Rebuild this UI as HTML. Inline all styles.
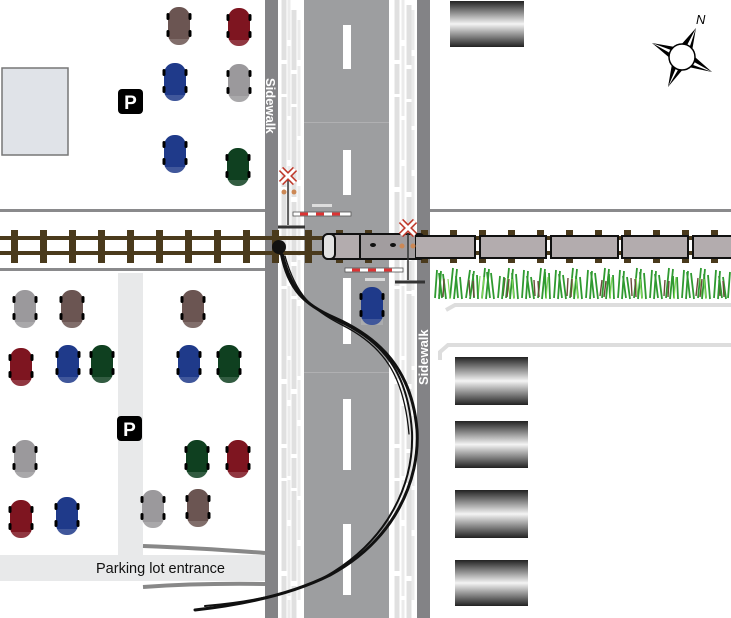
<!DOCTYPE html>
<html><head><meta charset="utf-8"><style>
html,body{margin:0;padding:0;background:#fff}
svg{display:block}
text{font-family:"Liberation Sans",sans-serif}
</style></head><body>
<svg width="731" height="618" viewBox="0 0 731 618" xmlns="http://www.w3.org/2000/svg">
<defs>
<linearGradient id="bg" x1="0" y1="0" x2="0" y2="1">
<stop offset="0" stop-color="#222"/><stop offset="0.5" stop-color="#f4f4f4"/><stop offset="1" stop-color="#222"/>
</linearGradient>
<g id="car"><rect x="-11" y="0" width="22" height="38" rx="10" ry="11"/>
<rect x="-12.5" y="6" width="3" height="7" rx="1.5" fill="#000"/><rect x="9.5" y="6" width="3" height="7" rx="1.5" fill="#000"/>
<rect x="-12.5" y="23" width="3" height="7" rx="1.5" fill="#000"/><rect x="9.5" y="23" width="3" height="7" rx="1.5" fill="#000"/>
<rect x="-11" y="32" width="22" height="6" fill="#fff" opacity="0.15"/></g>
<g id="xs"><path d="M-7,-7 L7,7 M7,-7 L-7,7" stroke="#c0392b" stroke-width="6"/><path d="M-7,-7 L7,7 M7,-7 L-7,7" stroke="#fff" stroke-width="3"/></g>
<g id="grass">
<g stroke="#2f9a30" stroke-width="1.8">
<path d="M435,298 l2,-28 M442,298 l-3,-25 M450,298 l3,-30 M458,298 l-2,-22 M466,298 l4,-28 M474,298 l-1,-24 M482,298 l3,-30 M490,298 l-3,-26 M498,298 l2,-22 M506,298 l3,-30 M514,298 l-2,-25 M522,298 l2,-28 M530,298 l-3,-22 M538,298 l3,-30 M546,298 l-1,-26 M554,298 l2,-28 M562,298 l-3,-24 M570,298 l3,-30 M578,298 l-2,-22 M586,298 l2,-28 M594,298 l-3,-26 M602,298 l3,-30 M610,298 l-1,-24 M618,298 l2,-28 M626,298 l-3,-22 M634,298 l3,-30 M642,298 l-2,-26 M650,298 l2,-28 M658,298 l-3,-24 M666,298 l3,-30 M674,298 l-1,-22 M682,298 l2,-28 M690,298 l-3,-26 M698,298 l3,-30 M706,298 l-2,-24 M714,298 l2,-28 M722,298 l-3,-22 M728,298 l2,-26"/>
</g>
<g stroke="#6b4a3a" stroke-width="1.4"><path d="M439,296 l1,-18 M470,296 l-1,-16 M503,296 l2,-18 M535,296 l-1,-16 M567,296 l1,-18 M600,296 l2,-16 M632,296 l-1,-18 M664,296 l1,-16 M696,296 l2,-18 M720,296 l-1,-16"/></g>
<g stroke="#7ed957" stroke-width="1.2"><path d="M446,298 l-2,-20 M478,298 l2,-22 M510,298 l-2,-20 M542,298 l2,-22 M574,298 l-2,-20 M606,298 l2,-22 M638,298 l-2,-20 M670,298 l2,-22 M702,298 l-2,-20"/></g>
</g>
</defs>
<!-- parking aisles -->
<rect x="118" y="273" width="25" height="285" fill="#e8e9ea"/>
<rect x="0" y="555" width="265" height="26" fill="#e8e9ea"/>
<path d="M143,546 Q200,548 265,553" stroke="#888" stroke-width="4" fill="none"/>
<path d="M143,587 Q200,583 265,584" stroke="#888" stroke-width="4" fill="none"/>
<!-- horizontal lines -->
<rect x="0" y="209" width="265" height="3" fill="#8a8a8c"/>
<rect x="430" y="209" width="301" height="3" fill="#8a8a8c"/>
<rect x="0" y="268" width="265" height="3" fill="#8a8a8c"/>
<path d="M446,310 L455,305 L731,305" stroke="#ddd" stroke-width="4" fill="none"/>
<path d="M440,360 L440,352 L448,345 L731,345" stroke="#ddd" stroke-width="4" fill="none"/>
<!-- road -->
<rect x="265" y="0" width="13" height="618" fill="#838386"/>
<rect x="417" y="0" width="13" height="618" fill="#838386"/>
<rect x="304" y="0" width="85" height="618" fill="#9d9ea0"/>
<rect x="304" y="122" width="85" height="1" fill="#b0b0b2"/>
<rect x="304" y="372" width="85" height="1" fill="#b0b0b2"/>
<g fill="#fff"><rect x="343" y="25" width="8" height="44"/><rect x="343" y="150" width="8" height="45"/><rect x="343" y="278" width="8" height="66"/><rect x="343" y="399" width="8" height="71"/><rect x="343" y="524" width="8" height="71"/></g>
<g stroke="#e0e0e0" stroke-width="5" stroke-dasharray="60 4 30 3 90 5">
<path d="M284,0 V618 M294,10 V618 M397,0 V618 M409,5 V618"/></g>
<g stroke="#ebebeb" stroke-width="3" stroke-dasharray="40 6 70 4">
<path d="M289,0 V618 M299,20 V600 M403,0 V618 M413,10 V600"/></g>
<text transform="translate(266,78) rotate(90)" font-size="13" font-weight="bold" fill="#fff">Sidewalk</text>
<text transform="translate(428,385) rotate(-90)" font-size="13" font-weight="bold" fill="#fff">Sidewalk</text>
<!-- tracks -->
<g fill="#4a3a1c">
<rect x="0" y="236" width="731" height="4"/><rect x="0" y="251" width="731" height="4"/>
<rect x="11" y="230" width="7" height="33"/><rect x="40" y="230" width="7" height="33"/><rect x="69" y="230" width="7" height="33"/><rect x="98" y="230" width="7" height="33"/><rect x="127" y="230" width="7" height="33"/><rect x="156" y="230" width="7" height="33"/><rect x="185" y="230" width="7" height="33"/><rect x="214" y="230" width="7" height="33"/><rect x="243" y="230" width="7" height="33"/><rect x="272" y="230" width="7" height="33"/><rect x="305" y="230" width="7" height="33"/>
<rect x="336" y="230" width="7" height="33"/><rect x="365" y="230" width="7" height="33"/><rect x="421" y="230" width="7" height="33"/><rect x="450" y="230" width="7" height="33"/><rect x="479" y="230" width="7" height="33"/><rect x="508" y="230" width="7" height="33"/><rect x="537" y="230" width="7" height="33"/><rect x="566" y="230" width="7" height="33"/><rect x="595" y="230" width="7" height="33"/><rect x="624" y="230" width="7" height="33"/><rect x="653" y="230" width="7" height="33"/><rect x="682" y="230" width="7" height="33"/><rect x="711" y="230" width="7" height="33"/>
</g>
<!-- train -->
<g stroke="#111" stroke-width="2" fill="#b3acae">
<rect x="325" y="234" width="98" height="25" rx="3"/>
<rect x="415" y="236" width="60" height="22"/><rect x="480" y="236" width="66" height="22"/><rect x="551" y="236" width="67" height="22"/><rect x="622" y="236" width="66" height="22"/><rect x="693" y="236" width="40" height="22"/>
</g>
<rect x="361" y="235" width="54" height="23" fill="#a29d9f"/>
<rect x="323" y="234" width="12" height="25" rx="5" fill="#e2e2e2" stroke="#111" stroke-width="2"/>
<line x1="360" y1="234" x2="360" y2="259" stroke="#111" stroke-width="2"/>
<ellipse cx="373" cy="245" rx="3" ry="2" fill="#111"/><ellipse cx="393" cy="245" rx="3" ry="2" fill="#111"/>
<!-- grass -->
<use href="#grass"/>
<use href="#grass" x="4" y="1"/>
<!-- crossings -->
<g stroke="#333" stroke-width="1.5" fill="none">
<line x1="288" y1="180" x2="288" y2="225"/><line x1="278" y1="227" x2="305" y2="227" stroke-width="3"/>
<line x1="408" y1="233" x2="408" y2="280"/><line x1="395" y1="282" x2="425" y2="282" stroke-width="3"/>
</g>
<rect x="293" y="212" width="58" height="4" fill="#fff" stroke="#555" stroke-width="0.8"/>
<path d="M300,214 h8 M316,214 h8 M332,214 h8" stroke="#d33" stroke-width="3"/>
<rect x="345" y="268" width="58" height="4" fill="#fff" stroke="#555" stroke-width="0.8"/>
<path d="M352,270 h8 M368,270 h8 M384,270 h8" stroke="#d33" stroke-width="3"/>
<rect x="312" y="204" width="20" height="3" fill="#ddd"/><rect x="365" y="278" width="20" height="3" fill="#ddd"/>
<circle cx="284" cy="192" r="2.5" fill="#c85"/><circle cx="294" cy="192" r="2.5" fill="#c85"/>
<circle cx="402" cy="246" r="2.5" fill="#c85"/><circle cx="413" cy="246" r="2.5" fill="#c85"/>
<use href="#xs" x="288" y="176"/><use href="#xs" x="408" y="228"/>
<circle cx="279" cy="247" r="7" fill="#111"/>
<!-- skid marks -->
<g fill="none" stroke="#111" stroke-linecap="round">
<path d="M281,252 C288,290 305,305 335,318 C380,338 412,370 417,430 C420,480 395,540 330,575 C290,595 240,605 195,610" stroke-width="3"/>
<path d="M283,255 C292,292 310,308 340,322 C383,342 408,372 412,432 C414,482 390,540 325,577 C285,597 240,603 205,606" stroke-width="2"/>
<path d="M285,256 C296,295 312,310 342,325 C384,346 404,376 409,434" stroke-width="1.3"/>
</g>
<!-- buildings -->
<rect x="450" y="1" width="74" height="46" fill="url(#bg)"/>
<rect x="455" y="357" width="73" height="48" fill="url(#bg)"/>
<rect x="455" y="421" width="73" height="47" fill="url(#bg)"/>
<rect x="455" y="490" width="73" height="48" fill="url(#bg)"/>
<rect x="455" y="560" width="73" height="46" fill="url(#bg)"/>
<rect x="2" y="68" width="66" height="87" fill="#e0e3e8" stroke="#777" stroke-width="1.5"/>
<!-- P signs -->
<rect x="118" y="89" width="25" height="25" rx="4" fill="#000"/><text x="130.5" y="109" font-size="19" font-weight="bold" fill="#fff" text-anchor="middle">P</text>
<rect x="117" y="416" width="25" height="25" rx="4" fill="#000"/><text x="129.5" y="436" font-size="19" font-weight="bold" fill="#fff" text-anchor="middle">P</text>
<!-- cars -->
<use href="#car" x="179" y="7" fill="#6b5552"/>
<use href="#car" x="239" y="8" fill="#7e1520"/>
<use href="#car" x="175" y="63" fill="#1f3a8a"/>
<use href="#car" x="239" y="64" fill="#9b999c"/>
<use href="#car" x="175" y="135" fill="#1f3a8a"/>
<use href="#car" x="238" y="148" fill="#0f4020"/>
<use href="#car" x="25" y="290" fill="#9b999c"/>
<use href="#car" x="72" y="290" fill="#6b5552"/>
<use href="#car" x="193" y="290" fill="#6b5552"/>
<use href="#car" x="21" y="348" fill="#7e1520"/>
<use href="#car" x="68" y="345" fill="#1f3a8a"/>
<use href="#car" x="102" y="345" fill="#0f4020"/>
<use href="#car" x="189" y="345" fill="#1f3a8a"/>
<use href="#car" x="229" y="345" fill="#0f4020"/>
<use href="#car" x="25" y="440" fill="#9b999c"/>
<use href="#car" x="197" y="440" fill="#0f4020"/>
<use href="#car" x="238" y="440" fill="#7e1520"/>
<use href="#car" x="21" y="500" fill="#7e1520"/>
<use href="#car" x="67" y="497" fill="#1f3a8a"/>
<use href="#car" x="153" y="490" fill="#9b999c"/>
<use href="#car" x="198" y="489" fill="#6b5552"/>
<use href="#car" x="372" y="287" fill="#1f3a8a"/>
<text x="96" y="573" font-size="14.5" fill="#111">Parking lot entrance</text>
<!-- compass -->
<g transform="translate(682,57)">
<polygon points="14,-29 9.5,-3 30,15 3.4,9.4 -14,30 -9.4,3.4 -30,-14 -3.5,-9.4" fill="#000"/>
<polygon points="14,-29 5,-2 2,-6" fill="#fff"/>
<polygon points="-30,-14 -3,-4 -5,0" fill="#fff"/>
<polygon points="-14,30 -3,4 0,6" fill="#fff"/>
<polygon points="30,15 3,5 5,1" fill="#fff"/>
<circle cx="0" cy="0" r="13" fill="#fff" stroke="#000" stroke-width="1.5"/>
<text x="14" y="-33" font-size="13" font-style="italic" font-family="Liberation Serif,serif">N</text>
</g>
</svg>
</body></html>
